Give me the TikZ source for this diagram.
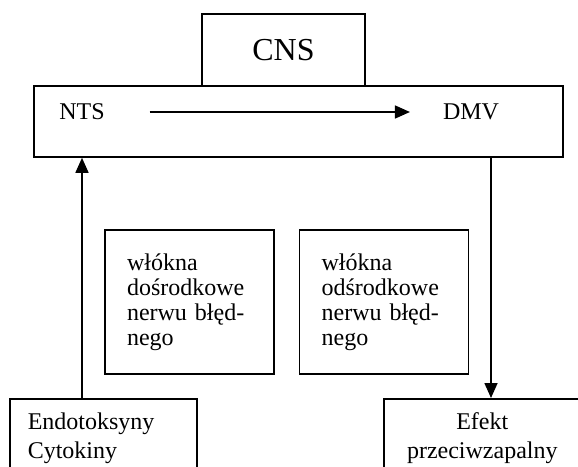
\documentclass[tikz,border=0pt]{standalone}
\usepackage{fontspec}
\setmainfont{Liberation Serif}
\usetikzlibrary{arrows.meta,positioning}

\begin{document}
\begin{tikzpicture}[
        x=0.5pt, y=-0.5pt,
        every node/.style={font=\fontsize{12}{12.5}\selectfont},
        box/.style={rectangle, draw, line width=0.8pt, inner sep=0pt},
        fibre/.style={box, minimum width=84.5pt, minimum height=72pt, text width=62.5pt, align=left, inner xsep=11pt},
        srcbox/.style={box, minimum height=39.5pt, anchor=north west, font=\fontsize{12}{14.5}\selectfont},
        arr/.style={draw, line width=0.8pt, -{Triangle[length=7.5pt,width=6.5pt]}}
    ]
    \clip (0,0) rectangle (578,466);
    % brain and brainstem
    \node[box, minimum width=81.5pt, minimum height=36pt, font=\fontsize{16}{19}\selectfont] (cns) at (283.5,50) {CNS};
    \node[box, minimum width=264.5pt, minimum height=35.5pt] (core) at (298.5,121.5) {};
    \node (nts) at (82,112) {NTS};
    \node (dmv) at (471,112) {DMV};
    \draw[arr, shorten <=19pt, shorten >=13pt] (nts) -- (dmv);
    % vagus fibres
    \node[fibre] (aff) at (189.5,302) {włókna\\dośrodkowe\\nerwu błęd-\\nego};
    \node[fibre, right=12pt of aff] (eff) {włókna\\odśrodkowe\\nerwu błęd-\\nego};
    % input and output
    \node[srcbox, minimum width=93.5pt, text width=75.5pt, inner xsep=9pt, align=left] (endo) at (9,398) {Endotoksyny\\Cytokiny};
    \node[srcbox, minimum width=98.5pt, align=center] (efekt) at (383,398) {Efekt\\przeciwzapalny};
    \coordinate (vagout) at (491,157);
    \draw[arr] (endo.north -| nts) -- (core.south -| nts);
    \draw[arr] (vagout) -- (vagout |- efekt.north);
\end{tikzpicture}
\end{document}
